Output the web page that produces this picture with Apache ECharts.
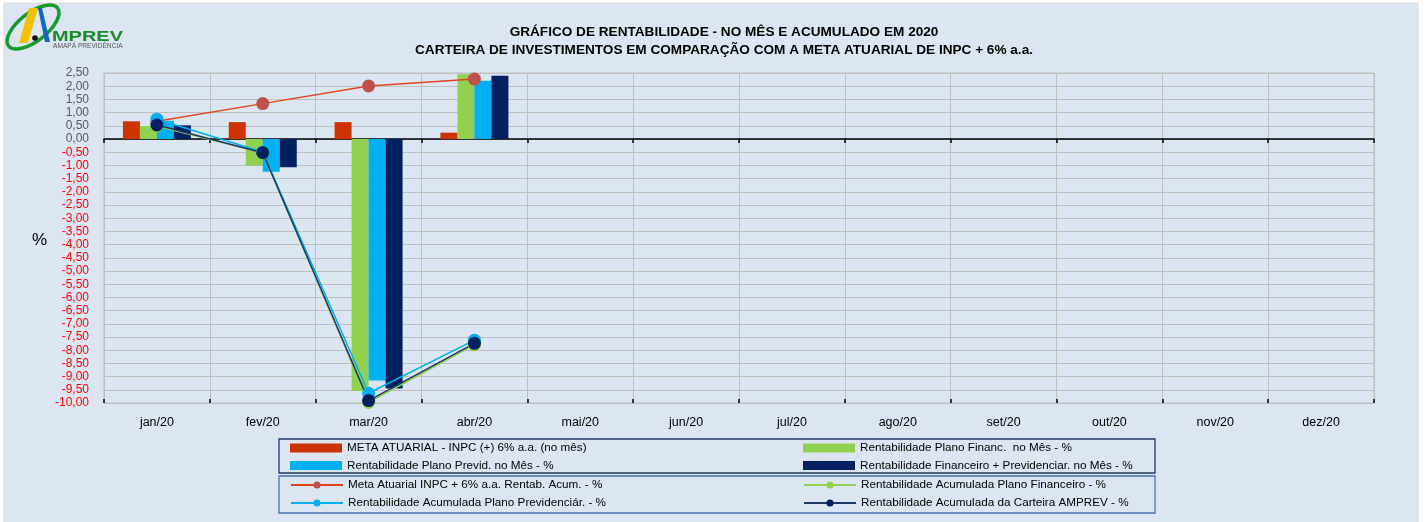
<!DOCTYPE html>
<html><head><meta charset="utf-8">
<script src="https://cdn.jsdelivr.net/npm/echarts@6/dist/echarts.min.js"></script>
<style>html,body{margin:0;padding:0;background:#fff;}#c{width:1426px;height:522px;}</style>
</head><body><div id="c"></div>
<script>
const months = ['jan/20','fev/20','mar/20','abr/20','mai/20','jun/20','jul/20','ago/20','set/20','out/20','nov/20','dez/20'];
const metaMes      = [0.67, 0.64, 0.64, 0.24, null, null, null, null, null, null, null, null];
const financMes    = [0.49, -1.01, -9.55, 2.45, null, null, null, null, null, null, null, null];
const previdMes    = [0.69, -1.24, -9.15, 2.21, null, null, null, null, null, null, null, null];
const carteiraMes  = [0.52, -1.07, -9.45, 2.40, null, null, null, null, null, null, null, null];
const metaAcum     = [0.67, 1.34, 2.01, 2.27, null, null, null, null, null, null, null, null];
const financAcum   = [0.49, -0.53, -9.98, -7.80, null, null, null, null, null, null, null, null];
const previdAcum   = [0.75, -0.49, -9.63, -7.62, null, null, null, null, null, null, null, null];
const carteiraAcum = [0.53, -0.52, -9.91, -7.74, null, null, null, null, null, null, null, null];
const names = [
  'META ATUARIAL - INPC (+) 6% a.a. (no mês)',
  'Rentabilidade Plano Financ.  no Mês - %',
  'Rentabilidade Plano Previd. no Mês - %',
  'Rentabilidade Financeiro + Previdenciar. no Mês - %',
  'Meta Atuarial INPC + 6% a.a. Rentab. Acum. - %',
  'Rentabilidade Acumulada Plano Financeiro - %',
  'Rentabilidade Acumulada Plano Previdenciár. - %',
  'Rentabilidade Acumulada da Carteira AMPREV - %'
];
const titleLines = ['GRÁFICO DE RENTABILIDADE - NO MÊS E ACUMULADO EM 2020',
  'CARTEIRA DE INVESTIMENTOS EM COMPARAÇÃO COM A META ATUARIAL DE INPC + 6% a.a.'];

const FONT = "'Liberation Sans', Arial, sans-serif";
const chart = echarts.init(document.getElementById('c'), null, {renderer: 'canvas'});

function bar(name, data, color) {
  return {name, type: 'bar', data, barWidth: 17, barGap: '0%', xAxisIndex: 0,
    itemStyle: {color}, emphasis: {disabled: true}};
}
function line(name, data, lineColor, markColor) {
  return {name, type: 'line', data, xAxisIndex: 0, symbol: 'circle', symbolSize: 13,
    lineStyle: {color: lineColor, width: 1.5}, itemStyle: {color: markColor},
    connectNulls: false, emphasis: {disabled: true}};
}
const legendText = {fontFamily: FONT, fontSize: 11.7, color: '#000'};
function legend(data, left, top, isLine, gap) {
  const l = {data, left, top, orient: 'vertical', itemGap: gap, itemWidth: 52,
    itemHeight: isLine ? 9 : 9, textStyle: legendText, selectedMode: false, padding: 0};
  if (!isLine) l.icon = 'rect';
  return l;
}

chart.setOption({
  animation: false,
  backgroundColor: '#ffffff',
  textStyle: {fontFamily: FONT},
  grid: {left: 104, right: 52, top: 73, bottom: 119, show: true, borderColor: '#bfbfbf', borderWidth: 1},
  title: [
    {text: titleLines[0], left: 719, textAlign: 'center', top: 20,
      textStyle: {fontFamily: FONT, fontSize: 13.6, fontWeight: 'bold', color: '#000'}},
    {text: titleLines[1], left: 719, textAlign: 'center', top: 38,
      textStyle: {fontFamily: FONT, fontSize: 13.6, fontWeight: 'bold', color: '#000'}}
  ],
  legend: [
    legend([names[0], names[2]], 290, 442, false, 5.5),
    legend([names[1], names[3]], 803, 442, false, 5.5),
    legend([names[4], names[6]], 290, 479, true, 6),
    legend([names[5], names[7]], 803, 479, true, 6)
  ],
  xAxis: [
    {type: 'category', data: months, position: 'bottom',
      axisLine: {show: false, onZero: false}, axisTick: {show: false},
      axisLabel: {fontFamily: FONT, fontSize: 12.5, color: '#000', margin: 13},
      splitLine: {show: true, lineStyle: {color: '#bfbfbf', width: 1}}},
    {type: 'category', data: months, position: 'bottom',
      axisLine: {show: true, onZero: true, lineStyle: {color: '#000', width: 1.5}},
      axisTick: {show: true, length: 4, lineStyle: {color: '#000', width: 1.5}},
      axisLabel: {show: false}, splitLine: {show: false}},
    {type: 'category', data: months, position: 'bottom',
      axisLine: {show: false, onZero: true},
      axisTick: {show: true, inside: true, length: 4, lineStyle: {color: '#000', width: 1.5}},
      axisLabel: {show: false}, splitLine: {show: false}}
  ],
  yAxis: {type: 'value', min: -10, max: 2.5, interval: 0.5,
    axisLine: {show: true, lineStyle: {color: '#bfbfbf'}}, axisTick: {show: false},
    splitLine: {lineStyle: {color: '#bfbfbf', width: 1}},
    axisLabel: {fontFamily: FONT, fontSize: 12, margin: 15,
      formatter: v => Number(v).toFixed(2).replace('.', ','),
      color: v => Number(v) < 0 ? '#ff0000' : '#595959'}},
  graphic: [
    {type: 'rect', z: -100, shape: {x: 4, y: 3, width: 1414, height: 530},
      style: {fill: '#dce6f2', stroke: '#d9d9d9', lineWidth: 1}},
    {type: 'text', left: 32, top: 232, style: {text: '%', font: '17px ' + FONT, fill: '#000'}},
    // logo
    {type: 'ellipse', shape: {cx: 0, cy: 0, rx: 31, ry: 14}, x: 33, y: 27, rotation: 0.66,
      style: {fill: 'none', stroke: '#169a2c', lineWidth: 3.5}},
    {type: 'polygon', shape: {points: [[29, 8], [38, 8], [28, 43], [19, 43]]}, style: {fill: '#f2c200'}},
    {type: 'polygon', shape: {points: [[38, 8], [42, 8], [50, 42], [45, 42]]}, style: {fill: '#1565c0'}},
    {type: 'circle', shape: {cx: 35, cy: 38, r: 2.8}, style: {fill: '#111'}},
    {type: 'text', x: 52, y: 29, scaleX: 1.33, style: {text: 'MPREV', font: 'bold 15px ' + FONT, fill: '#1a8a2a'}},
    {type: 'text', x: 53, y: 43, style: {text: 'AMAPÁ PREVIDÊNCIA', font: '6.6px ' + FONT, fill: '#555'}},
    // legend boxes
    {type: 'rect', shape: {x: 279, y: 439, width: 876, height: 34},
      style: {fill: 'none', stroke: '#1f3864', lineWidth: 1.3}},
    {type: 'rect', shape: {x: 279, y: 476, width: 876, height: 37},
      style: {fill: 'none', stroke: '#4a72b0', lineWidth: 1.3}}
  ],
  series: [
    bar(names[0], metaMes, '#cc3300'),
    bar(names[1], financMes, '#92d050'),
    bar(names[2], previdMes, '#00b0f0'),
    bar(names[3], carteiraMes, '#002060'),
    line(names[4], metaAcum, '#e0441a', '#c0504d'),
    line(names[5], financAcum, '#92d050', '#92d050'),
    line(names[6], previdAcum, '#00b0f0', '#00b0f0'),
    line(names[7], carteiraAcum, '#1f3864', '#002060')
  ]
});
</script></body></html>
